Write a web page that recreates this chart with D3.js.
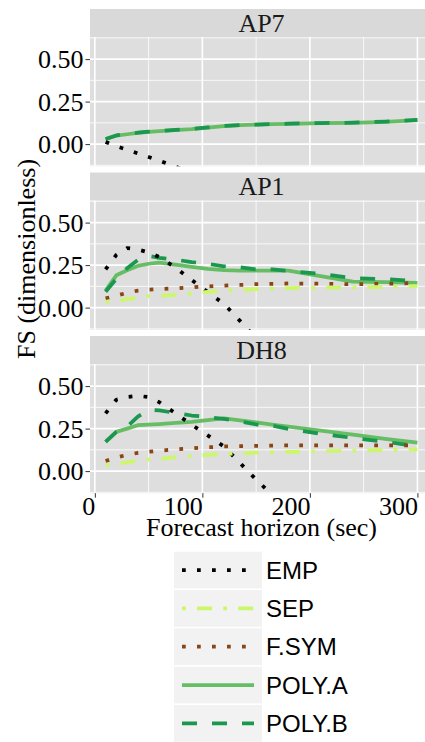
<!DOCTYPE html>
<html>
<head>
<meta charset="utf-8">
<script src="https://cdn.jsdelivr.net/npm/d3@7"></script>
<style>
  body { margin: 0; background: #fff; }
  svg { display: block; }
  .tick text { font-family: 'Liberation Serif', 'Times New Roman', serif !important; }
</style>
</head>
<body>
<script>
// forecast horizons (sec)
var horizons = [10, 20, 30, 40, 50, 60, 75, 90, 105, 120, 135, 150, 165, 180, 210, 240, 270, 300];
var panels = ["AP7", "AP1", "DH8"];
var methods = ["EMP", "SEP", "F.SYM", "POLY.A", "POLY.B"];
var xTicks = [0, 100, 200, 300];
var yTicks = [0, 0.25, 0.5];

// AP7
var ap7EMP   = [0.013, -0.012, -0.033, -0.055, -0.076, -0.098, -0.132, -0.17, -0.21, -0.26, -0.31, -0.36, -0.42, -0.48, -0.6, -0.72, -0.85, -0.98];
var ap7POLYA = [0.028, 0.05, 0.058, 0.066, 0.072, 0.076, 0.082, 0.088, 0.097, 0.106, 0.111, 0.114, 0.117, 0.119, 0.123, 0.125, 0.131, 0.141];
var ap7POLYB = [0.03, 0.051, 0.059, 0.067, 0.073, 0.077, 0.083, 0.089, 0.098, 0.107, 0.112, 0.115, 0.118, 0.12, 0.124, 0.126, 0.132, 0.142];
// AP1
var ap1EMP   = [0.225, 0.31, 0.35, 0.342, 0.325, 0.298, 0.235, 0.163, 0.092, 0.022, -0.078, -0.18, -0.3, -0.42, -0.68, -0.95, -1.2, -1.5];
var ap1SEP   = [0.034, 0.04, 0.05, 0.058, 0.067, 0.07, 0.075, 0.083, 0.093, 0.1, 0.105, 0.108, 0.112, 0.115, 0.117, 0.119, 0.121, 0.126];
var ap1FSYM  = [0.054, 0.07, 0.087, 0.1, 0.106, 0.109, 0.114, 0.119, 0.125, 0.129, 0.133, 0.138, 0.14, 0.142, 0.141, 0.138, 0.14, 0.145];
var ap1POLYA = [0.1, 0.19, 0.22, 0.245, 0.258, 0.265, 0.253, 0.24, 0.228, 0.22, 0.218, 0.217, 0.217, 0.217, 0.185, 0.153, 0.15, 0.146];
var ap1POLYB = [0.093, 0.17, 0.232, 0.28, 0.305, 0.293, 0.282, 0.268, 0.258, 0.243, 0.237, 0.225, 0.225, 0.216, 0.198, 0.173, 0.168, 0.155];
// DH8
var dh8EMP   = [0.34, 0.42, 0.436, 0.443, 0.435, 0.405, 0.34, 0.273, 0.21, 0.145, 0.048, -0.05, -0.14, -0.26, -0.5, -0.75, -1.0, -1.25];
var dh8SEP   = [0.035, 0.042, 0.052, 0.06, 0.069, 0.073, 0.081, 0.089, 0.095, 0.1, 0.104, 0.108, 0.11, 0.113, 0.117, 0.119, 0.124, 0.128];
var dh8FSYM  = [0.059, 0.08, 0.095, 0.107, 0.114, 0.12, 0.128, 0.134, 0.14, 0.145, 0.147, 0.149, 0.15, 0.151, 0.151, 0.151, 0.151, 0.152];
var dh8POLYA = [0.172, 0.231, 0.25, 0.27, 0.273, 0.277, 0.283, 0.29, 0.3, 0.31, 0.298, 0.286, 0.274, 0.262, 0.238, 0.214, 0.19, 0.167];
var dh8POLYB = [0.172, 0.231, 0.262, 0.32, 0.36, 0.357, 0.342, 0.327, 0.318, 0.307, 0.292, 0.274, 0.267, 0.248, 0.22, 0.195, 0.173, 0.145];

var seriesByPanel = {
  "AP7": {"EMP": ap7EMP, "POLY.A": ap7POLYA, "POLY.B": ap7POLYB},
  "AP1": {"EMP": ap1EMP, "SEP": ap1SEP, "F.SYM": ap1FSYM, "POLY.A": ap1POLYA, "POLY.B": ap1POLYB},
  "DH8": {"EMP": dh8EMP, "SEP": dh8SEP, "F.SYM": dh8FSYM, "POLY.A": dh8POLYA, "POLY.B": dh8POLYB}
};

var lw = 3.75;
var styles = {
  "EMP":    {color: "#000000", dash: "3.75,11.25"},
  "SEP":    {color: "#ccf76a", dash: "3.75,11.25,15,11.25"},
  "F.SYM":  {color: "#8b4513", dash: "3.75,11.25"},
  "POLY.A": {color: "#66bd63", dash: null},
  "POLY.B": {color: "#1a9850", dash: "15,15"}
};
// drawing order seen in the picture (bottom to top)
var drawOrder = ["POLY.A", "POLY.B", "F.SYM", "EMP", "SEP"];

var serif = "'Liberation Serif', 'Times New Roman', serif";
var sans = "'Liberation Sans', Arial, sans-serif";

var width = 425, height = 742;
var stripTop = 9, stripH = 28, plotH = 129.2, step = 163.5;

var svg = d3.select("body").append("svg")
    .attr("width", width)
    .attr("height", height);

var x = d3.scaleLinear().domain([-4.5, 314.5]).range([90, 433]);
var y = d3.scaleLinear().domain([-0.13, 0.63]).range([plotH, 0]);

var line = d3.line()
    .x(function(d) { return x(d[0]); })
    .y(function(d) { return y(d[1]); });

panels.forEach(function(p, i) {
  var g = svg.append("g").attr("transform", "translate(0," + (stripTop + i * step) + ")");

  // strip
  g.append("rect")
    .attr("x", x.range()[0]).attr("y", 0)
    .attr("width", x.range()[1] - x.range()[0]).attr("height", stripH)
    .attr("fill", "#d9d9d9");
  g.append("text")
    .attr("x", (x.range()[0] + x.range()[1]) / 2)
    .attr("y", stripH / 2)
    .attr("dy", "0.34em")
    .attr("text-anchor", "middle")
    .style("font-family", serif)
    .style("font-size", "26px")
    .attr("fill", "#1a1a1a")
    .text(p);

  var pg = g.append("g").attr("transform", "translate(0," + stripH + ")");
  pg.append("rect")
    .attr("x", x.range()[0]).attr("y", 0)
    .attr("width", x.range()[1] - x.range()[0]).attr("height", plotH)
    .attr("fill", "#dedede");

  // grid
  var minorX = [50, 150, 250], minorY = [-0.125, 0.125, 0.375, 0.625];
  pg.selectAll(".mx").data(minorX).enter().append("line")
    .attr("x1", x).attr("x2", x).attr("y1", 0).attr("y2", plotH)
    .attr("stroke", "#fff").attr("stroke-width", 0.8);
  pg.selectAll(".my").data(minorY).enter().append("line")
    .attr("x1", x.range()[0]).attr("x2", x.range()[1])
    .attr("y1", y).attr("y2", y)
    .attr("stroke", "#fff").attr("stroke-width", 0.8);
  pg.selectAll(".gx").data(xTicks).enter().append("line")
    .attr("x1", x).attr("x2", x).attr("y1", 0).attr("y2", plotH)
    .attr("stroke", "#fff").attr("stroke-width", 1.6);
  pg.selectAll(".gy").data(yTicks).enter().append("line")
    .attr("x1", x.range()[0]).attr("x2", x.range()[1])
    .attr("y1", y).attr("y2", y)
    .attr("stroke", "#fff").attr("stroke-width", 1.6);

  // clip
  svg.append("clipPath").attr("id", "clip" + i)
    .append("rect")
    .attr("x", x.range()[0]).attr("y", 0)
    .attr("width", x.range()[1] - x.range()[0]).attr("height", plotH);

  var lines = pg.append("g").attr("clip-path", "url(#clip" + i + ")");
  drawOrder.forEach(function(m) {
    var vals = seriesByPanel[p][m];
    if (!vals) return;
    var pts = horizons.map(function(h, k) { return [h, vals[k]]; });
    lines.append("path")
      .datum(pts)
      .attr("d", line)
      .attr("fill", "none")
      .attr("stroke", styles[m].color)
      .attr("stroke-width", lw)
      .attr("stroke-linecap", "butt")
      .attr("stroke-linejoin", "round")
      .attr("stroke-dasharray", styles[m].dash);
  });

  // y axis
  var ya = pg.append("g")
    .attr("transform", "translate(" + x.range()[0] + ",0)")
    .call(d3.axisLeft(y).tickValues(yTicks).tickFormat(d3.format(".2f")).tickSize(4.5).tickPadding(2));
  ya.attr("font-family", serif).attr("font-size", 26);
  ya.select(".domain").remove();
  ya.selectAll("line").attr("stroke", "#333");
  ya.selectAll("text")
    .style("font-family", serif).style("font-size", "26px")
    .attr("fill", "#000").attr("dy", "0.34em");

  if (i === panels.length - 1) {
    var xa = pg.append("g")
      .attr("transform", "translate(0," + plotH + ")")
      .call(d3.axisBottom(x).tickValues(xTicks).tickSize(4.5).tickPadding(2));
    xa.attr("font-family", serif).attr("font-size", 26);
    xa.select(".domain").remove();
    xa.selectAll("line").attr("stroke", "#333");
    xa.selectAll("text")
      .style("font-family", serif).style("font-size", "26px")
      .attr("fill", "#000")
      .attr("text-anchor", "end")
      .attr("dy", "0.58em");
  }
});

// axis titles
svg.append("text")
  .attr("x", (x.range()[0] + x.range()[1]) / 2)
  .attr("y", 536)
  .attr("text-anchor", "middle")
  .style("font-family", serif).style("font-size", "26px")
  .text("Forecast horizon (sec)");

svg.append("text")
  .attr("transform", "translate(35,259) rotate(-90)")
  .attr("text-anchor", "middle")
  .style("font-family", serif).style("font-size", "26px")
  .text("FS (dimensionless)");

// legend
var keyX = 174, keyW = 88, keyH = 36.7, keyTop = 551.7, keyStep = 38.33;
var leg = svg.append("g");
methods.forEach(function(m, k) {
  var ky = keyTop + k * keyStep;
  leg.append("rect")
    .attr("x", keyX).attr("y", ky)
    .attr("width", keyW).attr("height", keyH)
    .attr("fill", "#f2f2f2");
  leg.append("line")
    .attr("x1", keyX + 8).attr("x2", keyX + keyW - 8)
    .attr("y1", ky + keyH / 2).attr("y2", ky + keyH / 2)
    .attr("stroke", styles[m].color)
    .attr("stroke-width", lw)
    .attr("stroke-dasharray", styles[m].dash);
  leg.append("text")
    .attr("x", keyX + keyW + 4)
    .attr("y", ky + keyH / 2)
    .attr("dy", "0.36em")
    .style("font-family", sans).style("font-size", "24px")
    .attr("fill", "#000")
    .text(m);
});
</script>
</body>
</html>
